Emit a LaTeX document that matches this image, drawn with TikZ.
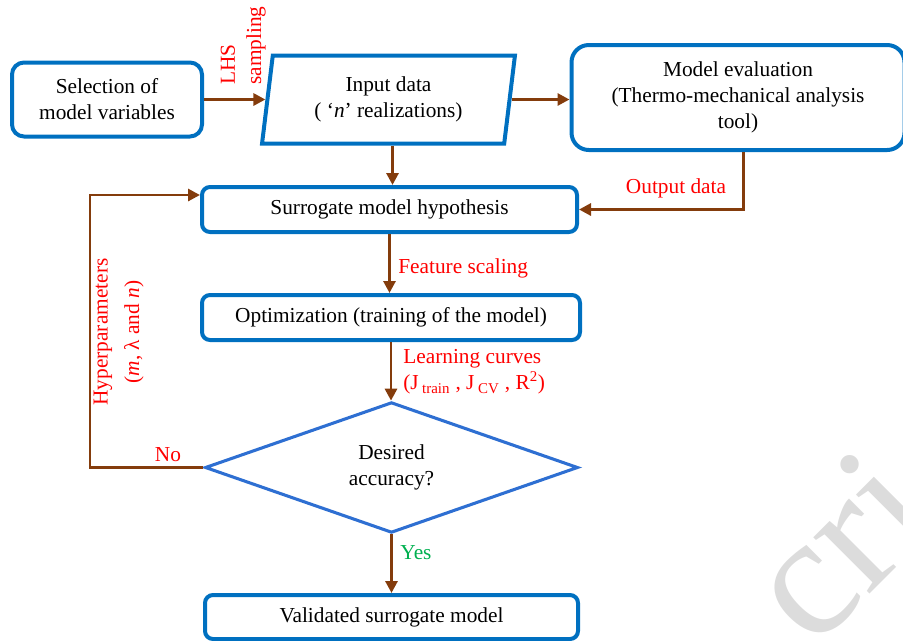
\documentclass[tikz,border=0pt]{standalone}
\usepackage{fontspec}
\setmainfont{Liberation Serif}
\usetikzlibrary{shapes.geometric,arrows.meta}
\definecolor{boxblue}{HTML}{0070C0}
\definecolor{diablue}{HTML}{2E6FD2}
\definecolor{arrbrown}{HTML}{843C0C}
\definecolor{lblred}{HTML}{FF0000}
\definecolor{lblgreen}{HTML}{00B050}
\definecolor{wmgray}{HTML}{DCDCDC}
\begin{document}
\begin{tikzpicture}[x=0.75pt,y=-0.75pt, font=\fontsize{16}{19.5}\selectfont,
 box/.style={draw=boxblue, line width=3pt, rounded corners=7pt, align=center, inner sep=2pt},
 arr/.style={draw=arrbrown, line width=2.2pt, -{Triangle[length=9pt,width=9pt]}},
 lbl/.style={text=lblred, inner sep=0pt},
]
\useasboundingbox (0,0) rectangle (903,640);
\node[text=wmgray, rotate=45, inner sep=0pt, font=\fontsize{130}{130}\selectfont] (wm) at (838,546) {cri};

\node[box, rounded corners=9pt, minimum width=142.5pt, minimum height=55.5pt] (b1) at (107,99.5) {Selection of\\model variables};
\node[trapezium, draw=boxblue, line width=3pt, trapezium left angle=82, trapezium right angle=98, trapezium stretches=true, minimum width=189.75pt, minimum height=66pt, align=center, inner sep=2pt] (inp) at (388.5,99.5) {Input data\\( `\textit{n}' realizations)};
\node[box, rounded corners=13pt, minimum width=249.75pt, minimum height=78.75pt] (me) at (738,97.5) {Model evaluation\\(Thermo-mechanical analysis\\tool)};
\node[box, rounded corners=6pt, minimum width=281.25pt, minimum height=33.75pt] (sur) at (389.5,209.5) {Surrogate model hypothesis};
\node[box, rounded corners=6pt, minimum width=283.5pt, minimum height=33.75pt] (opt) at (391,317.5) {Optimization (training of the model)};
\node[diamond, draw=diablue, line width=2.3pt, minimum width=279.75pt, minimum height=93.75pt, inner sep=0pt, align=center] (dia) at (391.5,467.5) {Desired\\accuracy?};
\node[box, rounded corners=6pt, minimum width=279.75pt, minimum height=33pt] (val) at (391.5,617) {Validated surrogate model};

\coordinate (hp) at (90,195);
\draw[arr] (b1) -- (inp);
\draw[arr] (inp.east) -- (inp.east -| me.west);
\draw[arr] ([xshift=3pt]inp.south) -- ([xshift=3pt]inp.south |- sur.north);
\draw[arr] ([xshift=4pt]me.south) |- (sur.east);
\draw[arr] (sur.south) -- (sur.south |- opt.north);
\draw[arr] (opt.south) -- (opt.south |- dia.north);
\draw[arr] (dia.west) -| (hp) -- (hp -| sur.west);
\draw[arr] (dia.south) -- (dia.south |- val.north);

\node[lbl, rotate=90, anchor=west] (lhs) at (228,85) {LHS};
\node[lbl, rotate=90, anchor=west] (smp) at (256,85) {sampling};
\node[lbl] (out) at (676,188) {Output data};
\node[lbl, anchor=west] (fs) at (398,268) {Feature scaling};
\node[lbl, anchor=west, align=left] (lc) at (403,372) {Learning curves\\(J\,\textsubscript{train} , J\,\textsubscript{CV} , R\textsuperscript{2})};
\node[lbl] (no) at (168,455) {No};
\node[lbl, rotate=90] (hyp) at (103,332) {Hyperparameters};
\node[lbl, rotate=90] (hyp2) at (134,332) {(\textit{m}, λ and \textit{n})};
\node[text=lblgreen, inner sep=0pt] (yes) at (416,553) {Yes};
\end{tikzpicture}
\end{document}
